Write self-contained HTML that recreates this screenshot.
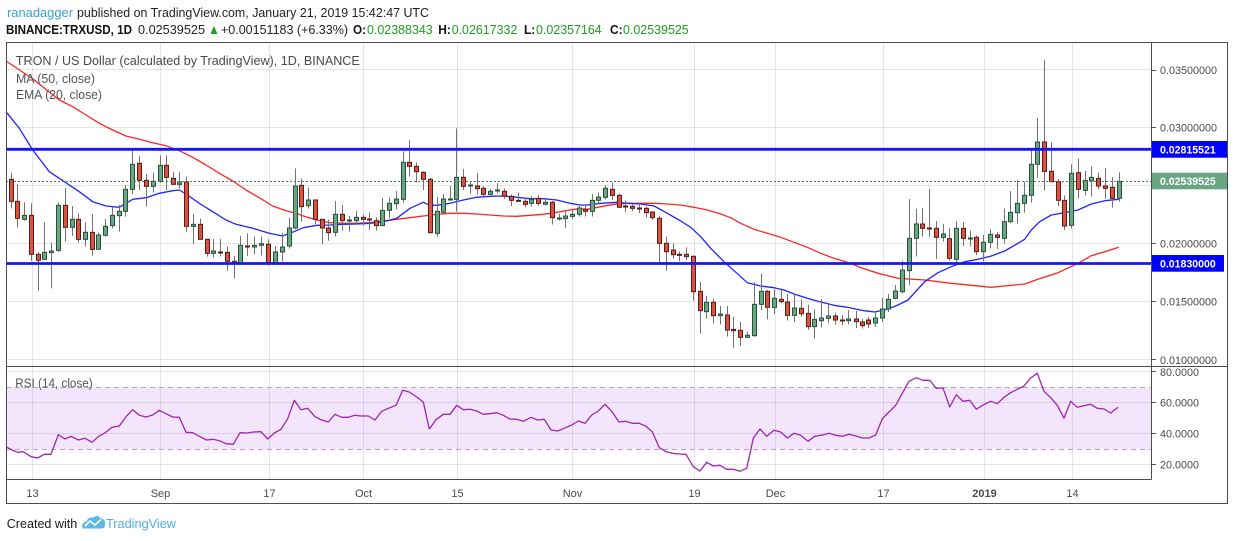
<!DOCTYPE html>
<html><head><meta charset="utf-8">
<style>
html,body{margin:0;padding:0;background:#fff;width:1234px;height:541px;overflow:hidden}
svg{display:block}
text{font-family:"Liberation Sans",Arial,sans-serif}
</style></head><body>
<svg id="s" width="1234" height="541" viewBox="0 0 1234 541" xmlns="http://www.w3.org/2000/svg">
<rect width="1234" height="541" fill="#fff"/>

<!-- header -->
<text x="7" y="17" font-size="12.5" fill="#3ca0d8" textLength="66" lengthAdjust="spacingAndGlyphs">ranadagger</text>
<text x="77" y="17" font-size="12.5" fill="#222" textLength="352" lengthAdjust="spacingAndGlyphs">published on TradingView.com, January 21, 2019 15:42:47 UTC</text>
<text x="6" y="34" font-size="12.5" font-weight="bold" fill="#111" textLength="126" lengthAdjust="spacingAndGlyphs">BINANCE:TRXUSD, 1D</text>
<text x="138" y="34" font-size="12.5" fill="#222" textLength="67" lengthAdjust="spacingAndGlyphs">0.02539525</text>
<polygon points="210.5,34 217.5,34 214,26" fill="#1fa31f"/>
<text x="221" y="34" font-size="12.5" fill="#222" textLength="127" lengthAdjust="spacingAndGlyphs">+0.00151183 (+6.33%)</text>
<text x="353" y="34" font-size="12.5" font-weight="bold" fill="#111" textLength="13" lengthAdjust="spacingAndGlyphs">O:</text>
<text x="367" y="34" font-size="12.5" fill="#1e9e1e" textLength="65.7" lengthAdjust="spacingAndGlyphs">0.02388343</text>
<text x="438.3" y="34" font-size="12.5" font-weight="bold" fill="#111" textLength="12.6" lengthAdjust="spacingAndGlyphs">H:</text>
<text x="451.7" y="34" font-size="12.5" fill="#1e9e1e" textLength="65.7" lengthAdjust="spacingAndGlyphs">0.02617332</text>
<text x="524" y="34" font-size="12.5" font-weight="bold" fill="#111" textLength="11.3" lengthAdjust="spacingAndGlyphs">L:</text>
<text x="536" y="34" font-size="12.5" fill="#1e9e1e" textLength="65.7" lengthAdjust="spacingAndGlyphs">0.02357164</text>
<text x="610" y="34" font-size="12.5" font-weight="bold" fill="#111" textLength="12.6" lengthAdjust="spacingAndGlyphs">C:</text>
<text x="623" y="34" font-size="12.5" fill="#1e9e1e" textLength="65.7" lengthAdjust="spacingAndGlyphs">0.02539525</text>

<!-- RSI band fill -->
<rect x="6" y="387.5" width="1145" height="62" fill="#f3e6fc"/>

<!-- grid -->
<g stroke="#000" stroke-opacity="0.1" stroke-width="1">
  <line x1="32.5" y1="42" x2="32.5" y2="479"/>
  <line x1="160.5" y1="42" x2="160.5" y2="479"/>
  <line x1="269.5" y1="42" x2="269.5" y2="479"/>
  <line x1="363.5" y1="42" x2="363.5" y2="479"/>
  <line x1="457.5" y1="42" x2="457.5" y2="479"/>
  <line x1="572.5" y1="42" x2="572.5" y2="479"/>
  <line x1="694.5" y1="42" x2="694.5" y2="479"/>
  <line x1="775.5" y1="42" x2="775.5" y2="479"/>
  <line x1="883.5" y1="42" x2="883.5" y2="479"/>
  <line x1="984.5" y1="42" x2="984.5" y2="479"/>
  <line x1="1072.5" y1="42" x2="1072.5" y2="479"/>
  <line x1="6" y1="69.5" x2="1151" y2="69.5"/>
  <line x1="6" y1="127.5" x2="1151" y2="127.5"/>
  <line x1="6" y1="185.5" x2="1151" y2="185.5"/>
  <line x1="6" y1="243.5" x2="1151" y2="243.5"/>
  <line x1="6" y1="301.5" x2="1151" y2="301.5"/>
  <line x1="6" y1="359.5" x2="1151" y2="359.5"/>
  <line x1="6" y1="371.5" x2="1151" y2="371.5"/>
  <line x1="6" y1="402.5" x2="1151" y2="402.5"/>
  <line x1="6" y1="433.5" x2="1151" y2="433.5"/>
  <line x1="6" y1="464.5" x2="1151" y2="464.5"/>
</g>
<g stroke="#b4a6bd" stroke-width="1" stroke-dasharray="5,4">
  <line x1="6" y1="387.5" x2="1151" y2="387.5"/>
  <line x1="6" y1="449.5" x2="1151" y2="449.5"/>
</g>

<g id="ind"></g>
<g id="candles"></g>

<!-- current price dotted line -->
<line x1="6" y1="181.5" x2="1151" y2="181.5" stroke="#4f7f60" stroke-width="1" stroke-dasharray="2,2"/>
<!-- horizontal resistance / support lines -->
<line x1="6" y1="149.3" x2="1151" y2="149.3" stroke="#1414ff" stroke-width="2.8"/>
<line x1="6" y1="263.5" x2="1151" y2="263.5" stroke="#1414ff" stroke-width="2.8"/>

<g id="rsi"></g>

<!-- legends -->
<text x="15.8" y="65" font-size="12.5" fill="#4a4a4a" textLength="344" lengthAdjust="spacingAndGlyphs">TRON / US Dollar (calculated by TradingView), 1D, BINANCE</text>
<text x="16" y="83" font-size="12.5" fill="#555" textLength="79" lengthAdjust="spacingAndGlyphs">MA (50, close)</text>
<text x="16" y="99" font-size="12.5" fill="#555" textLength="86" lengthAdjust="spacingAndGlyphs">EMA (20, close)</text>
<text x="15.3" y="387.7" font-size="12.5" fill="#555" textLength="77.4" lengthAdjust="spacingAndGlyphs">RSI (14, close)</text>

<!-- price axis -->
<g stroke="#555" stroke-width="1">
  <line x1="1151" y1="70.5" x2="1156" y2="70.5"/>
  <line x1="1151" y1="127.5" x2="1156" y2="127.5"/>
  <line x1="1151" y1="243.5" x2="1156" y2="243.5"/>
  <line x1="1151" y1="301.5" x2="1156" y2="301.5"/>
  <line x1="1151" y1="359.5" x2="1156" y2="359.5"/>
  <line x1="1151" y1="371.5" x2="1156" y2="371.5"/>
  <line x1="1151" y1="402.5" x2="1156" y2="402.5"/>
  <line x1="1151" y1="433.5" x2="1156" y2="433.5"/>
  <line x1="1151" y1="464.5" x2="1156" y2="464.5"/>
</g>
<g font-size="11" fill="#4a4a4a">
  <text x="1160" y="74" textLength="57" lengthAdjust="spacingAndGlyphs">0.03500000</text>
  <text x="1160" y="131.7" textLength="57" lengthAdjust="spacingAndGlyphs">0.03000000</text>
  <text x="1160" y="247.3" textLength="57" lengthAdjust="spacingAndGlyphs">0.02000000</text>
  <text x="1160" y="305.7" textLength="57" lengthAdjust="spacingAndGlyphs">0.01500000</text>
  <text x="1160" y="364" textLength="57" lengthAdjust="spacingAndGlyphs">0.01000000</text>
  <text x="1160" y="376" textLength="39" lengthAdjust="spacingAndGlyphs">80.0000</text>
  <text x="1160" y="406.7" textLength="39" lengthAdjust="spacingAndGlyphs">60.0000</text>
  <text x="1160" y="437.7" textLength="39" lengthAdjust="spacingAndGlyphs">40.0000</text>
  <text x="1160" y="468.7" textLength="39" lengthAdjust="spacingAndGlyphs">20.0000</text>
</g>
<rect x="1151" y="141" width="76" height="16.7" fill="#0000ff"/>
<text x="1160" y="153.6" font-size="11" font-weight="bold" fill="#fff" textLength="55.7" lengthAdjust="spacingAndGlyphs">0.02815521</text>
<rect x="1151" y="172.7" width="76" height="16.6" fill="#6aa584"/>
<text x="1160" y="185.2" font-size="11" font-weight="bold" fill="#fff" textLength="55.7" lengthAdjust="spacingAndGlyphs">0.02539525</text>
<rect x="1151" y="255" width="73" height="16.7" fill="#0000ff"/>
<text x="1160" y="267.6" font-size="11" font-weight="bold" fill="#fff" textLength="55.7" lengthAdjust="spacingAndGlyphs">0.01830000</text>

<!-- time axis -->
<g font-size="11" fill="#4a4a4a" text-anchor="middle">
  <text x="32.5" y="497">13</text>
  <text x="160.5" y="497">Sep</text>
  <text x="269.5" y="497">17</text>
  <text x="363.5" y="497">Oct</text>
  <text x="457.5" y="497">15</text>
  <text x="572.5" y="497">Nov</text>
  <text x="694.5" y="497">19</text>
  <text x="775.5" y="497">Dec</text>
  <text x="883.5" y="497">17</text>
  <text x="984.5" y="497" font-weight="bold">2019</text>
  <text x="1072.5" y="497">14</text>
</g>

<!-- frame -->
<g stroke="#4d4d4d" stroke-width="1" fill="none">
  <rect x="6.5" y="42.5" width="1221" height="461"/>
  <line x1="6" y1="366.5" x2="1227" y2="366.5"/>
  <line x1="6" y1="479.5" x2="1151.5" y2="479.5"/>
  <line x1="1151.5" y1="42" x2="1151.5" y2="479.5"/>
</g>

<!-- footer -->
<text x="6.7" y="528" font-size="13" fill="#1a1a1a" textLength="70.6" lengthAdjust="spacingAndGlyphs">Created with</text>
<path d="M82.5 528.5 Q81 522.5 86.5 521.5 Q88 516.5 93.5 517.5 Q97 514 101 518.5 Q106 519.5 105 524 Q105.5 528.5 101 528.5 Z" fill="#5ab9e8"/>
<polyline points="85,526 90,521 95,525 101,519.5" stroke="#fff" stroke-width="1.6" fill="none"/>
<text x="106" y="528" font-size="13" fill="#4bb0e3" textLength="70" lengthAdjust="spacingAndGlyphs">TradingView</text>
</svg>
<script>
(function(){
const NS='http://www.w3.org/2000/svg';
function el(tag,attrs,parent){const e=document.createElementNS(NS,tag);for(const k in attrs)e.setAttribute(k,attrs[k]);parent.appendChild(e);return e;}
const A=[[16,'d',218,238,304,325],[34,'d',253,304,355,382],[55,'u',307,346,358,362],[76,'d',310,346,463,483],[97,'d',456,463,481,572],[115,'u',367,457,478,478],[136,'u',428,453,458,565],[157,'u',307,316,451,456],[178,'d',264,316,382,424],[197,'u',318,358,382,408],[217,'d',340,358,418,428],[238,'u',367,397,418,440],[259,'d',342,397,448,467],[277,'u',398,405,448,448],[298,'u',357,379,406,410],[319,'u',323,346,377,385],[340,'u',315,334,347,395],[358,'u',255,268,334,350],[379,'u',147,193,268,283],[400,'d',168,190,241,270],[421,'d',222,241,259,320],[440,'u',218,244,259,278],[461,'u',166,196,244,248],[481,'d',166,196,232,270],[502,'d',216,235,253,253],[520,'u',216,246,253,265],[541,'d',230,246,379,395],[562,'u',342,373,379,432],[583,'d',356,373,418,418],[604,'d',416,418,460,470],[622,'u',417,453,460,472],[643,'d',417,456,457,470],[664,'d',440,457,484,512],[685,'d',467,484,492,536],[703,'u',408,436,492,492],[724,'d',400,438,441,468],[745,'u',410,436,441,463],[766,'u',410,431,436,466],[785,'d',418,433,488,496],[806,'u',438,456,490,490],[827,'u',398,441,456,485],[848,'u',354,384,438,446],[866,'u',205,258,384,388]];
const B=[[34,'d',235,256,320,365],[55,'u',262,300,317,326],[76,'d',300,300,358,372],[95,'d',357,358,384,433],[115,'d',358,384,398,422],[136,'u',303,343,397,410],[157,'d',315,343,362,392],[176,'u',348,360,362,395],[197,'u',333,352,362,374],[218,'d',343,352,358,377],[238,'d',338,357,359,389],[257,'d',352,362,377,392],[277,'u',294,331,377,377],[298,'u',293,310,331,355],[319,'u',273,297,311,329],[338,'u',154,187,298,309],[358,'d',120,187,199,230],[379,'d',187,199,215,248],[400,'d',214,217,238,270],[419,'d',233,238,398,398],[440,'u',291,334,400,410],[460,'u',282,297,337,338],[481,'u',258,297,299,300],[499,'u',85,232,298,335],[520,'d',207,232,259,270],[541,'u',243,255,257,281],[562,'d',219,258,266,283],[580,'d',258,265,283,289],[601,'u',267,274,283,284],[622,'u',249,270,273,280],[643,'d',265,274,288,297],[662,'d',283,289,301,318],[683,'d',277,301,303,305],[704,'d',293,304,313,322],[724,'u',288,298,310,320],[743,'d',285,295,310,317],[764,'u',299,307,313,316],[785,'d',303,307,353,374],[806,'u',341,354,357,362],[824,'u',333,348,356,383],[845,'u',326,343,349,357],[866,'u',313,324,343,350]];
const C=[[34,'d',165,178,184,200],[55,'u',132,151,184,200],[73,'u',128,141,151,160],[94,'u',106,115,142,148],[115,'d',98,118,136,150],[136,'d',130,136,172,172],[154,'d',152,168,170,186],[175,'d',162,169,175,183],[196,'d',160,174,176,190],[217,'d',170,175,188,203],[235,'d',185,186,203,210],[256,'d',197,205,280,342],[277,'d',260,280,305,362],[298,'d',280,300,314,326],[316,'d',305,313,316,333],[337,'d',292,313,320,330],[358,'d',316,319,425,452],[379,'d',396,424,482,551],[397,'u',437,457,485,506],[418,'d',446,457,497,520],[439,'u',468,492,497,523],[460,'d',468,495,540,560],[478,'d',500,538,542,593],[499,'d',515,541,562,588],[520,'u',545,556,562,562],[541,'u',396,463,557,560],[560,'u',370,424,463,480],[580,'d',420,424,472,508],[601,'u',418,445,472,492],[622,'d',420,448,455,460],[640,'d',432,456,496,512],[661,'u',434,474,496,516],[682,'d',448,475,491,500],[703,'d',464,490,530,540],[721,'u',478,508,530,566],[742,'u',447,504,512,533],[763,'u',459,498,505,520],[784,'d',488,498,510,524],[804,'d',495,510,512,526],[823,'u',480,507,512,523],[845,'d',482,507,515,534],[864,'d',506,516,527,536]];
const D=[[868.2,'d',317,320,324,328],[874.9,'u',313,318,323,327],[881.7,'u',298,309,318,322],[888.4,'u',294,299.3,309,312]];
const E=[[112,'u',705,723,745,748],[133,'u',632,660,725,730],[154,'u',447,565,662,706],[175,'u',477,522,565,620],[193,'d',474,522,535,560],[214,'d',417,534,537,560],[235,'d',513,535,562,627],[256,'u',522,552,562,575],[274,'d',535,566,625,632],[295,'u',513,535,628,638],[316,'d',516,535,565,588],[337,'u',542,564,566,590],[355,'d',557,562,605,615],[376,'u',555,577,605,634],[397,'u',538,553,577,595],[418,'d',547,555,562,597],[439,'u',476,515,565,580],[457,'u',423,487,515,520],[478,'u',390,460,488,520],[499,'u',395,436,460,488],[520,'u',295,343,436,458],[538,'u',204,276,343,383],[559,'d',30,276,364,422],[580,'d',277,364,395,398],[601,'d',387,395,451,468],[619,'d',436,451,528,540],[640,'u',343,370,526,535],[661,'d',325,368,418,445],[682,'u',363,391,421,436],[700,'u',349,382,393,440],[721,'d',368,385,408,418],[742,'d',354,408,415,446],[763,'d',381,412,445,473],[782,'u',367,394,445,455]];
const segs=[[6,100,3,A],[290,100,3,B],[574,150,3,C],[0,0,1,D],[858,50,3,E]];
const gC=document.getElementById('candles');
segs.forEach(function(s){const ox=s[0],oy=s[1],sc=s[2];s[3].forEach(function(c){
  const x=ox+c[0]/sc, wt=oy+c[2]/sc, bt=oy+c[3]/sc, bb=oy+c[4]/sc, wb=oy+c[5]/sc;
  const up=c[1]==='u'; const cx=Math.round(x);
  el('line',{x1:cx+0.5,x2:cx+0.5,y1:wt,y2:wb,stroke:'#737373','stroke-width':1},gC);
  const h=Math.max(bb-bt,1);
  el('rect',{x:cx-1.5,y:bt,width:4,height:h,fill:up?'#6ba583':'#d75442',stroke:up?'#225437':'#5b1a13','stroke-width':1},gC);
});});
function build(list){const out=[];let last=-1e9;list.forEach(function(s){const ox=s[0],oy=s[1],sc=s[2];s[3].forEach(function(p){const x=ox+p[0]/sc,y=oy+p[1]/sc;if(x>last+0.3){out.push(x.toFixed(1)+','+y.toFixed(1));last=x;}});});return out.join(' ');}
const gI=document.getElementById('ind');
const red=[[0,0,1,[[6,61],[33,79]]],[6,100,3,[[160,0],[200,20],[240,45],[280,70],[320,90],[360,108],[400,118],[440,128],[480,137],[520,152],[560,172],[600,195],[640,220],[680,243],[720,270],[760,293],[800,318],[840,332],[870,340]]],[290,100,3,[[0,340],[40,348],[80,360],[120,368],[160,370],[200,370],[240,368],[280,363],[320,358],[360,353],[400,348],[440,343],[480,340],[520,340],[560,342],[600,345],[640,348],[680,349],[720,346],[760,343],[800,337],[840,330],[870,326]]],[574,150,3,[[0,180],[40,178],[80,170],[120,163],[160,160],[200,160],[240,160],[280,162],[320,165],[360,172],[400,180],[440,192],[470,203],[500,220],[540,238],[580,250],[620,262],[660,277],[700,292],[740,310],[780,325],[820,337],[850,348]]],[858,50,3,[[0,650],[60,670],[120,685],[200,690],[280,700],[400,712],[500,702],[540,688],[600,668],[660,640],[700,617],[740,605],[782,592]]]];
const blue=[[6,100,3,[[0,35],[40,85],[80,150],[130,215],[175,245],[220,275],[260,305],[300,318],[340,322],[360,310],[380,298],[420,293],[460,280],[500,272],[520,270],[540,282],[580,310],[620,335],[660,360],[690,373],[740,385],[790,400],[830,408],[850,400]]],[290,100,3,[[0,400],[40,383],[80,376],[120,375],[160,373],[200,372],[240,370],[280,365],[320,355],[340,340],[360,325],[400,307],[420,316],[440,316],[480,310],[520,300],[560,292],[600,289],[640,288],[680,292],[720,296],[760,296],[800,300],[840,310],[870,315]]],[574,150,3,[[0,165],[40,165],[80,160],[130,157],[160,160],[200,162],[240,168],[280,190],[320,213],[350,232],[380,260],[410,295],[450,335],[480,362],[520,398],[560,408],[600,413],[630,420],[660,432],[700,445],[740,456],[780,466],[820,472],[870,482]]],[0,0,1,[[875,312],[888,309],[898,305]]],[858,50,3,[[150,750],[200,695],[240,668],[280,650],[320,635],[360,628],[400,618],[440,603],[480,580],[500,568],[520,540],[545,515],[580,495],[620,488],[660,480],[700,462],[740,452],[782,448]]]];
el('polyline',{points:build(red),fill:'none',stroke:'#ff2424','stroke-width':1.3,'stroke-linejoin':'round'},gI);
el('polyline',{points:build(blue),fill:'none',stroke:'#2424ff','stroke-width':1.3,'stroke-linejoin':'round'},gI);
const rsi=[[6,366,3,[[0,242],[18,252],[35,259],[52,257],[75,272],[95,276],[115,265],[135,265],[157,206],[177,219],[195,211],[217,222],[237,217],[258,229],[278,211],[298,200],[318,184],[340,180],[360,152],[380,131],[400,148],[420,153],[440,147],[460,133],[480,143],[500,153],[520,154],[540,199],[560,200],[580,211],[602,222],[622,220],[640,224],[660,233],[682,235],[702,200],[722,201],[742,198],[765,197],[785,219],[805,201],[825,190],[845,158],[865,103],[885,131],[905,127],[927,152],[947,162],[967,168],[987,145],[1007,154],[1027,154],[1047,148],[1067,150],[1087,150],[1107,162],[1127,136],[1147,127]]],[390,366,3,[[18,118],[38,73],[58,78],[80,93],[100,108],[118,189],[138,161],[160,145],[180,145],[200,118],[220,131],[240,130],[260,135],[280,145],[300,143],[320,140],[340,148],[360,159],[380,160],[400,166],[423,154],[443,162],[463,160],[483,192],[503,195],[523,187],[545,177],[565,165],[585,172],[605,147],[625,135],[645,115],[665,136],[687,168],[707,166],[727,172],[747,172],[767,180],[787,197],[808,245],[828,257],[848,262],[868,264],[888,265],[910,302],[930,315],[950,289],[970,300],[990,298],[1010,310],[1030,310],[1050,316],[1070,307],[1090,217],[1110,189],[1130,211],[1152,193]]],[774,366,3,[[20,198],[40,216],[60,202],[80,208],[102,226],[122,211],[145,207],[165,202],[185,208],[205,211],[225,205],[245,210],[265,216],[285,216],[305,207],[325,158],[345,138],[365,118],[385,82],[405,46],[427,35],[447,43],[467,43],[487,67],[507,66],[527,123],[547,86],[567,106],[587,103],[607,130],[627,117],[650,106],[670,113],[690,94],[710,80],[730,70],[750,60],[770,36],[790,22],[810,76],[830,95],[850,118],[870,157],[890,106],[910,124],[930,119],[950,115],[970,127],[990,129],[1010,141],[1032,124]]]];
el('polyline',{points:build(rsi),fill:'none',stroke:'#9c27b0','stroke-width':1.3,'stroke-linejoin':'round'},document.getElementById('rsi'));
})();
</script>
</body></html>
